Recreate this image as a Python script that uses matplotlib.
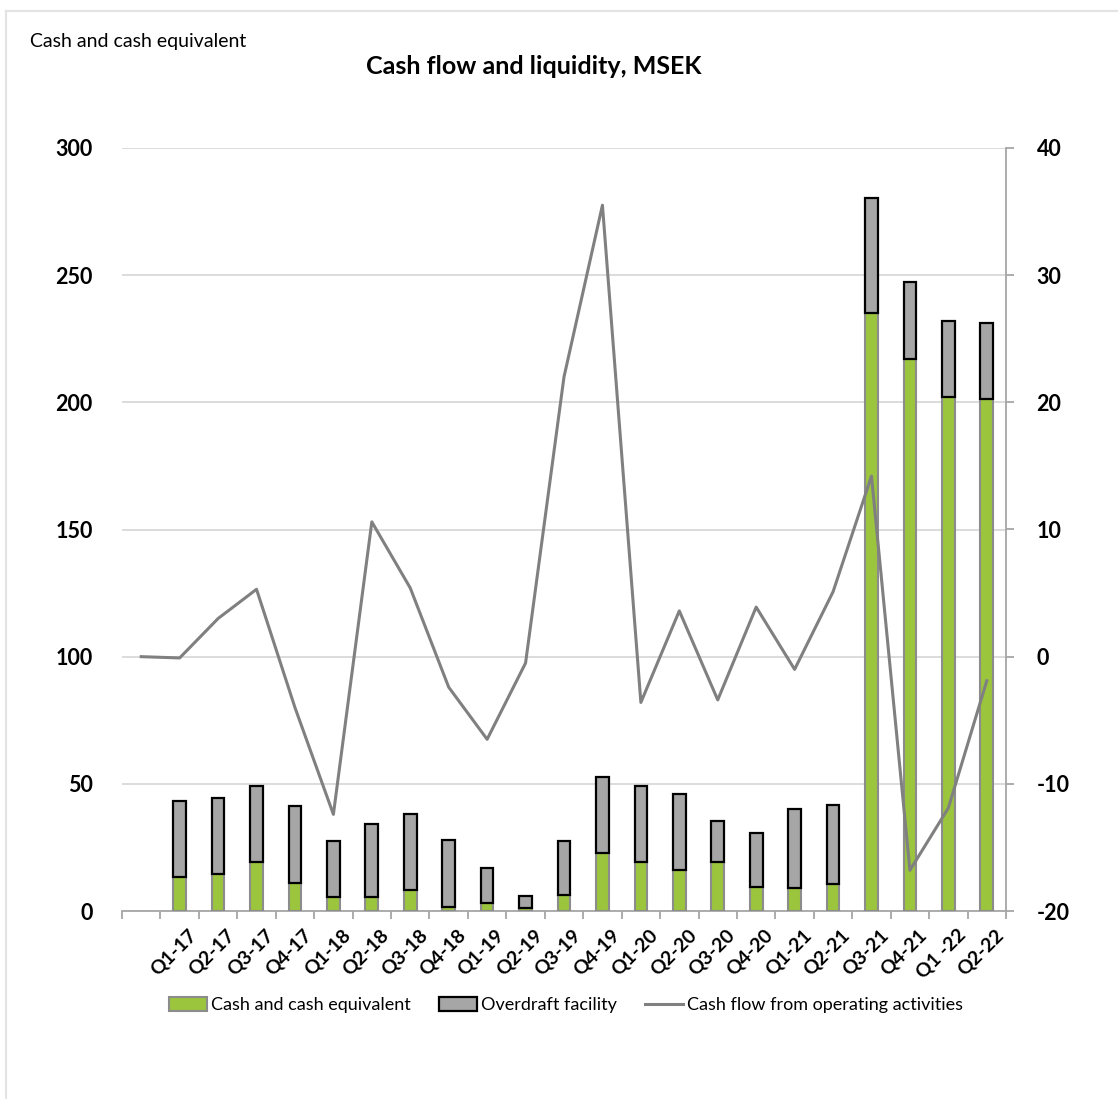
import matplotlib.pyplot as plt
import matplotlib.transforms as mtransforms
import numpy as np
from matplotlib.lines import Line2D
from matplotlib.patches import Patch

plt.rcParams['font.family'] = ['Lato', 'DejaVu Sans']
plt.rcParams['axes.unicode_minus'] = False

# Kvartal (första kategorin är tom, bara linjen startar där)
kvartal = ['', 'Q1-17', 'Q2-17', 'Q3-17', 'Q4-17', 'Q1-18', 'Q2-18', 'Q3-18', 'Q4-18',
           'Q1-19', 'Q2-19', 'Q3-19', 'Q4-19', 'Q1-20', 'Q2-20', 'Q3-20', 'Q4-20',
           'Q1-21', 'Q2-21', 'Q3-21', 'Q4-21', 'Q1 -22', 'Q2-22']

# Likvida medel (MSEK), från Q1-17
kassa = [13.2, 14.4, 19.3, 11.0, 5.5, 5.5, 8.1, 1.6, 3.1, 1.2, 6.2, 22.7,
         19.3, 16.1, 19.3, 9.4, 8.9, 10.7, 235.0, 217.1, 202.0, 201.2]
# Checkräkningskredit (MSEK), staplad ovanpå
checkkredit = [30.2, 30.2, 30.0, 30.3, 22.0, 28.7, 30.0, 26.3, 13.7, 4.7, 21.3, 30.0,
               30.0, 29.9, 16.0, 21.4, 31.1, 31.0, 45.2, 30.1, 30.0, 30.1]
# Kassaflöde från den löpande verksamheten (höger axel)
kassaflode = [0.0, -0.1, 3.0, 5.3, -4.0, -12.4, 10.6, 5.4, -2.4, -6.5, -0.5, 22.0,
              35.5, -3.6, 3.6, -3.4, 3.9, -1.0, 5.1, 14.2, -16.8, -11.9, -1.9]

gron = '#9BC53D'
gra = '#A6A6A6'
linjefarg = '#808080'

fig = plt.figure(figsize=(11.18, 10.99), dpi=100)
ax = fig.add_axes([122/1118, 1 - 911/1099, 884/1118, 763/1099])
ax2 = ax.twinx()

x_bar = np.arange(1, len(kvartal))
x_line = np.arange(len(kvartal))

ax.bar(x_bar, kassa, width=0.33, color=gron, edgecolor='#8C8C8C', linewidth=1.5, zorder=3)
ax.bar(x_bar, checkkredit, bottom=kassa, width=0.33, color=gra, edgecolor='black',
       linewidth=1.6, zorder=3)
ax2.plot(x_line, kassaflode, color=linjefarg, linewidth=2.2)

ax.set_xlim(-0.5, len(kvartal) - 0.5)
ax.set_ylim(0, 300)
ax.set_yticks(range(0, 301, 50))
ax2.set_ylim(-20, 40)
ax2.set_yticks(range(-20, 41, 10))

ax.yaxis.grid(True, color='#D9D9D9', linewidth=1.3, zorder=0)
ax.set_axisbelow(True)

for a in (ax, ax2):
    for s in ('top', 'left'):
        a.spines[s].set_visible(False)
ax2.spines['bottom'].set_visible(False)
ax.spines['right'].set_visible(False)
ax.spines['bottom'].set_color('#A6A6A6')
ax.spines['bottom'].set_linewidth(1.3)
ax2.spines['right'].set_color('#A6A6A6')
ax2.spines['right'].set_linewidth(1.3)

ax.tick_params(axis='y', length=0, pad=21, labelsize=15.5)
for t in ax.get_yticklabels():
    t.set_fontweight('bold')
ax2.tick_params(axis='y', length=6, color='#A6A6A6', width=1.3, pad=16, labelsize=15.5)
for t in ax2.get_yticklabels():
    t.set_fontweight('bold')

# kategoritick mellan staplarna, etiketter i mitten
ax.set_xticks(np.arange(-0.5, len(kvartal), 1.0))
ax.set_xticklabels([])
ax.tick_params(axis='x', length=6, color='#A6A6A6', width=1.3)
ax.set_xticks(x_line, minor=True)
ax.set_xticklabels(kvartal, minor=True, rotation=45, ha='right', va='top',
                   rotation_mode='anchor', fontsize=14, fontweight='bold')
ax.tick_params(axis='x', which='minor', length=0, pad=11)
offset = mtransforms.ScaledTranslation(8/100, 0, fig.dpi_scale_trans)
for t in ax.get_xticklabels(minor=True):
    t.set_transform(t.get_transform() + offset)

fig.text(534/1118, 1 - 66/1099, 'Cash flow and liquidity, MSEK', ha='center', va='center',
         fontsize=18, fontweight='bold')
fig.text(30/1118, 1 - 42/1099, 'Cash and cash equivalent', ha='left', va='center', fontsize=14)

handles = [Patch(facecolor=gron, edgecolor='#8C8C8C', linewidth=1.5),
           Patch(facecolor=gra, edgecolor='black', linewidth=1.6),
           Line2D([0], [0], color=linjefarg, linewidth=2.2)]
labels = ['Cash and cash equivalent', 'Overdraft facility', 'Cash flow from operating activities']
fig.legend(handles, labels, loc='center', bbox_to_anchor=(566/1118, 1 - 1005/1099), ncol=3,
           frameon=False, fontsize=13, handlelength=2.1, handleheight=0.8,
           handletextpad=0.2, columnspacing=1.6)

# ram runt diagramområdet
fig.add_artist(Line2D([6/1118, 1], [1 - 11/1099, 1 - 11/1099], color='#E3E3E3', linewidth=1.5))
fig.add_artist(Line2D([6/1118, 6/1118], [0, 1 - 11/1099], color='#E3E3E3', linewidth=1.5))

fig.savefig('out.png', dpi=100)
